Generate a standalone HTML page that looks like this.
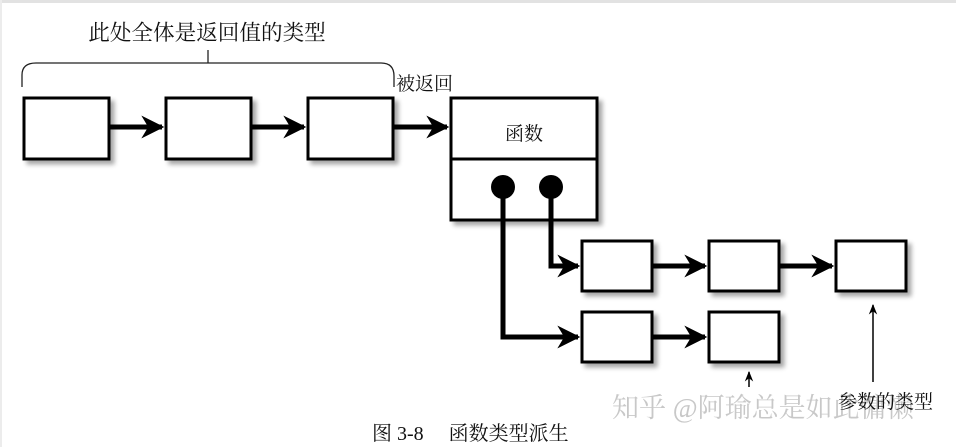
<!DOCTYPE html>
<html><head><meta charset="utf-8"><style>
html,body{margin:0;padding:0;background:#fff;}
svg{display:block;}
text{font-family:"Liberation Serif","Noto Serif CJK SC","Noto Sans CJK SC",serif;}
</style></head><body>
<svg width="956" height="447" viewBox="0 0 956 447" xmlns="http://www.w3.org/2000/svg">
<defs>
<filter id="sh" x="-20%" y="-20%" width="150%" height="150%"><feGaussianBlur in="SourceAlpha" stdDeviation="2.5"/><feOffset dx="4" dy="4"/><feComponentTransfer><feFuncA type="linear" slope="0.35"/></feComponentTransfer><feMerge><feMergeNode/><feMergeNode in="SourceGraphic"/></feMerge></filter>
<marker id="ah" viewBox="0 0 10 10" refX="9" refY="5" markerWidth="4.6" markerHeight="4.6" orient="auto" markerUnits="strokeWidth"><path d="M0,0 L10,5 L0,10 L3,5 z" fill="#000"/></marker>
<marker id="as" viewBox="0 0 10 10" refX="9" refY="5" markerWidth="7" markerHeight="7" orient="auto" markerUnits="strokeWidth"><path d="M0,1 L10,5 L0,9 L3,5 z" fill="#000"/></marker>
</defs>
<rect x="0" y="0" width="956" height="3" fill="#e2e2e2"/>
<rect x="0" y="0" width="2" height="447" fill="#ececec"/>
<text x="207" y="40" font-size="21.6" text-anchor="middle" fill="#111">此处全体是返回值的类型</text>
<path d="M208,50 V63" stroke="#222" stroke-width="1.3" fill="none"/>
<path d="M22,87 V75 Q22,63 36,63 H381 Q394,63 394,76 V87" stroke="#222" stroke-width="1.3" fill="none"/>
<text x="396" y="90" font-size="19" fill="#111">被返回</text>
<g stroke="#000" stroke-width="3" fill="#fff" filter="url(#sh)">
<rect x="24" y="98" width="85" height="61"/>
<rect x="166" y="98" width="85" height="61"/>
<rect x="308" y="98" width="85" height="61"/>
<rect x="451" y="98" width="146" height="122"/>
<rect x="582" y="241" width="70" height="50"/>
<rect x="709" y="241" width="70" height="50"/>
<rect x="836" y="241" width="70" height="50"/>
<rect x="582" y="312" width="70" height="50"/>
<rect x="709" y="312" width="70" height="50"/>
</g>
<line x1="451" y1="159" x2="597" y2="159" stroke="#000" stroke-width="3"/>
<text x="524" y="140" font-size="19" text-anchor="middle" fill="#111">函数</text>
<g stroke="#000" stroke-width="5" fill="none" marker-end="url(#ah)">
<line x1="109" y1="127" x2="162" y2="127"/>
<line x1="251" y1="127" x2="304" y2="127"/>
<line x1="393" y1="127" x2="447" y2="127"/>
<path d="M551,187 V266 H578"/>
<line x1="652" y1="266" x2="705" y2="266"/>
<line x1="779" y1="266" x2="832" y2="266"/>
<path d="M503,187 V337 H578"/>
<line x1="652" y1="337" x2="705" y2="337"/>
</g>
<circle cx="503" cy="187" r="12" fill="#000"/>
<circle cx="551" cy="187" r="12" fill="#000"/>
<g stroke="#000" stroke-width="1.5" fill="none" marker-end="url(#as)">
<line x1="749" y1="387" x2="749" y2="372"/>
<line x1="873" y1="382" x2="873" y2="305"/>
</g>
<text x="612" y="417" font-size="27" fill="#c8c8c8" font-family="Liberation Sans,Noto Sans CJK SC,sans-serif">知乎 @阿瑜总是如此慵懒</text>
<text x="838" y="408" font-size="19" fill="#111">参数的类型</text>
<text x="372" y="440" font-size="20" fill="#111">图 3-8　 函数类型派生</text>
</svg>
</body></html>
